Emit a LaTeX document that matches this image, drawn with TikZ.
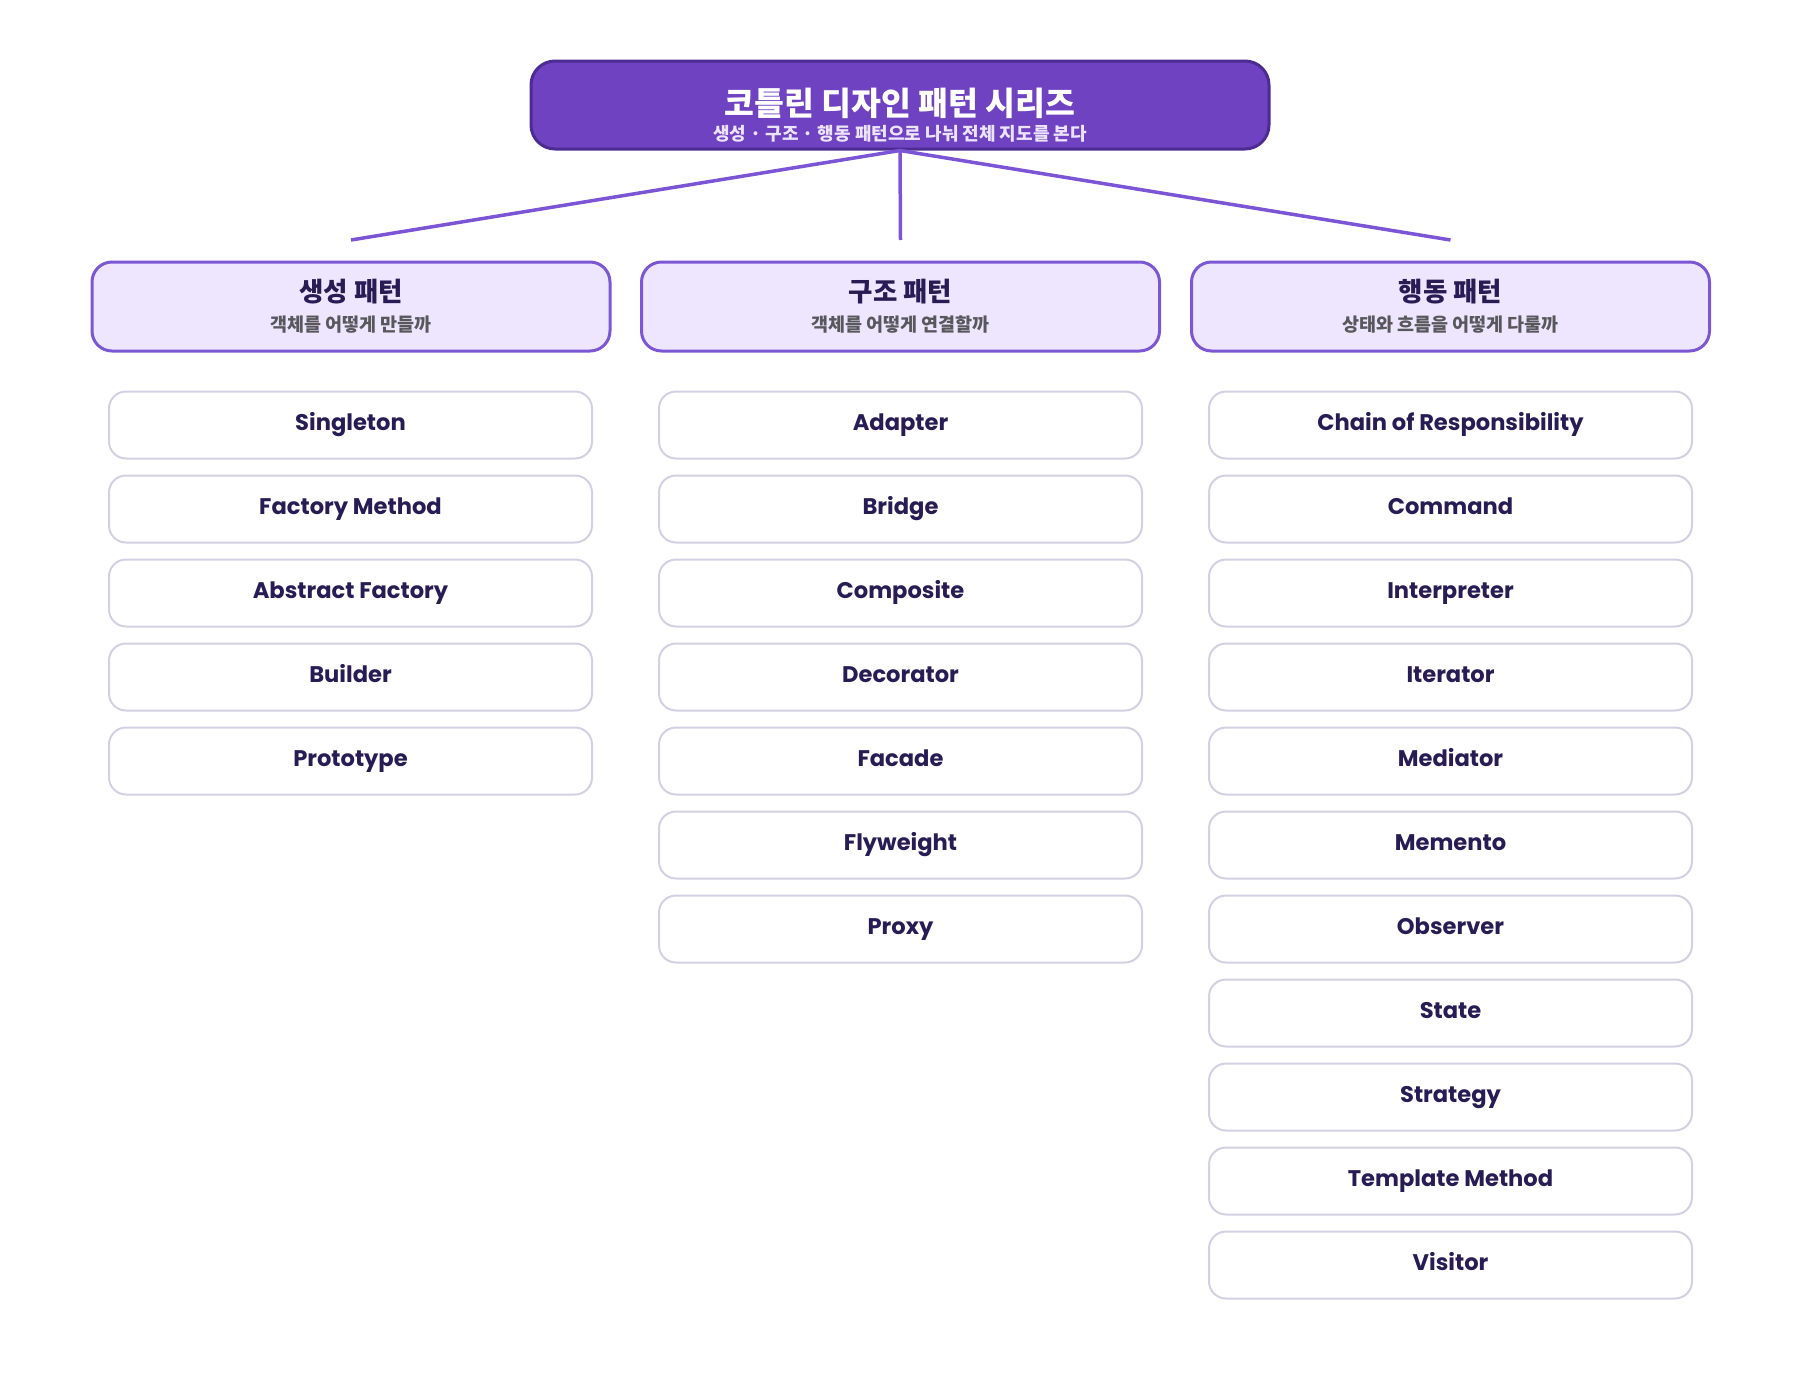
\documentclass[tikz,border=0pt]{standalone}
\usepackage{fontspec}
\usepackage{tikz}
\usepackage{xcolor}
\setmainfont{Poppins}
\newfontfamily\krfont{Noto Sans CJK KR}
\usetikzlibrary{positioning}
\definecolor{titlepurple}{RGB}{111, 66, 193}
\definecolor{titleedge}{RGB}{76, 44, 146}
\definecolor{catfill}{RGB}{238, 230, 255}
\definecolor{catedge}{RGB}{124, 87, 212}
\definecolor{itemedge}{RGB}{212, 208, 228}
\definecolor{inkdark}{RGB}{40, 28, 84}
\definecolor{subgray}{RGB}{88, 88, 92}
\definecolor{titlesub}{RGB}{236, 228, 255}
\definecolor{linkpurple}{RGB}{124, 84, 214}

\tikzset{
  itembox/.style={draw=itemedge, line width=2pt, fill=white, rounded corners=17pt,
    minimum width=483pt, minimum height=67pt, inner sep=0pt, text=inkdark,
    text height=16.5pt, text depth=5.5pt,
    font=\fontsize{22.6}{26}\selectfont\bfseries},
  catbox/.style={draw=catedge, line width=3pt, fill=catfill, rounded corners=20pt,
    minimum width=518pt, minimum height=89pt, inner sep=0pt},
  cattitle/.style={inner sep=0pt, text=inkdark, font=\krfont\fontsize{26.5}{30}\selectfont\bfseries},
  catsub/.style={inner sep=0pt, text=subgray, font=\krfont\fontsize{18.5}{22}\selectfont\bfseries},
  link/.style={linkpurple, line width=3.5pt},
}

\begin{document}
\begin{tikzpicture}[x=1pt,y=-1pt]
    \useasboundingbox (0,0) rectangle (1800,1400);

    % Title
    \node[draw=titleedge, line width=3pt, fill=titlepurple, rounded corners=24pt,
      minimum width=738pt, minimum height=88pt] (title) at (900,105) {};
    \node[inner sep=0pt, text=white, font=\krfont\fontsize{32.5}{36}\selectfont\bfseries] (titletext) at (900,103) {코틀린 디자인 패턴 시리즈};
    \node[inner sep=0pt, text=titlesub, font=\krfont\fontsize{18}{22}\selectfont\bfseries] (titlesubtext) at (900,134) {생성 · 구조 · 행동 패턴으로 나눠 전체 지도를 본다};

    % Links
    \coordinate (crehook) at (351,240);
    \coordinate (strhook) at (900.5,240);
    \coordinate (behhook) at (1450.5,240);
    \draw[link] (title.south) -- (crehook);
    \draw[link] (title.south) -- (strhook);
    \draw[link] (title.south) -- (behhook);

    % Categories
    \node[catbox] (cre) at (351,306.5) {};
    \node[cattitle] (cretitle) at (351,292) {생성 패턴};
    \node[catsub] (cresub) at (351,325) {객체를 어떻게 만들까};

    \node[catbox] (str) at (900.5,306.5) {};
    \node[cattitle] (strtitle) at (900.5,292) {구조 패턴};
    \node[catsub] (strsub) at (900.5,325) {객체를 어떻게 연결할까};

    \node[catbox] (beh) at (1450.5,306.5) {};
    \node[cattitle] (behtitle) at (1450.5,292) {행동 패턴};
    \node[catsub] (behsub) at (1450.5,325) {상태와 흐름을 어떻게 다룰까};

    % Creational
    \node[itembox] (singleton) at (350.5,425) {Singleton};
    \node[itembox] (factorymethod) at (350.5,509) {Factory Method};
    \node[itembox] (abstractfactory) at (350.5,593) {Abstract Factory};
    \node[itembox] (builder) at (350.5,677) {Builder};
    \node[itembox] (prototype) at (350.5,761) {Prototype};

    % Structural
    \node[itembox] (adapter) at (900.5,425) {Adapter};
    \node[itembox] (bridge) at (900.5,509) {Bridge};
    \node[itembox] (composite) at (900.5,593) {Composite};
    \node[itembox] (decorator) at (900.5,677) {Decorator};
    \node[itembox] (facade) at (900.5,761) {Facade};
    \node[itembox] (flyweight) at (900.5,845) {Flyweight};
    \node[itembox] (proxy) at (900.5,929) {Proxy};

    % Behavioral
    \node[itembox] (chain) at (1450.5,425) {Chain of Responsibility};
    \node[itembox] (command) at (1450.5,509) {Command};
    \node[itembox] (interpreter) at (1450.5,593) {Interpreter};
    \node[itembox] (iterator) at (1450.5,677) {Iterator};
    \node[itembox] (mediator) at (1450.5,761) {Mediator};
    \node[itembox] (memento) at (1450.5,845) {Memento};
    \node[itembox] (observer) at (1450.5,929) {Observer};
    \node[itembox] (state) at (1450.5,1013) {State};
    \node[itembox] (strategy) at (1450.5,1097) {Strategy};
    \node[itembox] (templatemethod) at (1450.5,1181) {Template Method};
    \node[itembox] (visitor) at (1450.5,1265) {Visitor};

\end{tikzpicture}
\end{document}
